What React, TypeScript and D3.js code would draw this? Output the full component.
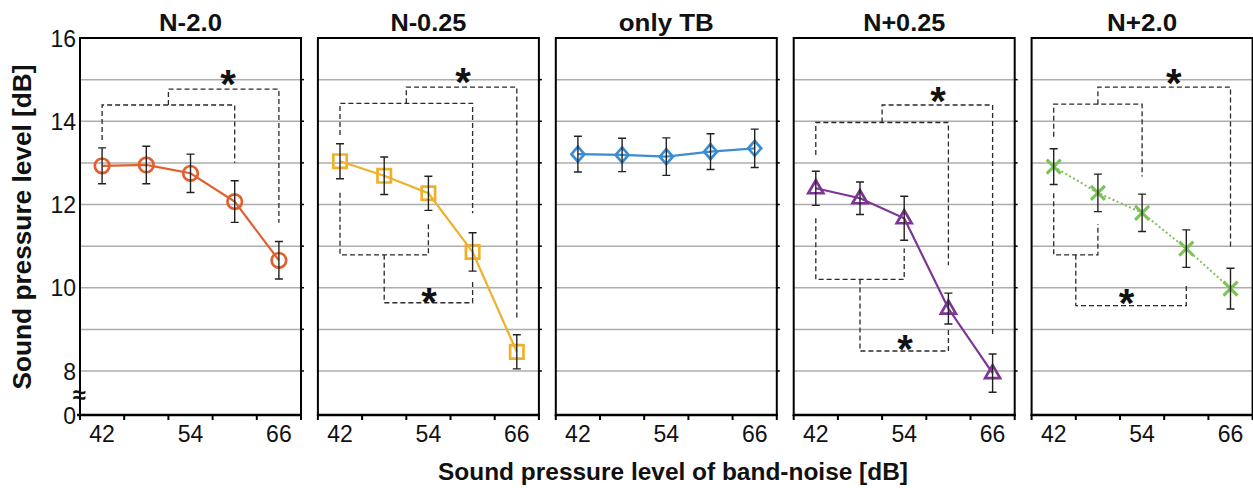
import React, { useEffect, useRef } from "react";
import * as d3 from "d3";

// band-noise levels (x categories) and labels
const categories = [42, 48, 54, 60, 66];
const xTickLabels = [42, 54, 66];
const xBandEdges = [39, 45, 51, 57, 63, 69];
const yTickLabels = [8, 10, 12, 14, 16];
const gridValues = [8, 9, 10, 11, 12, 13, 14, 15];

const panelTitles = ["N-2.0", "N-0.25", "only TB", "N+0.25", "N+2.0"];

// mean thresholds [dB] and error bars
const meanN20 = [12.93, 12.95, 12.75, 12.07, 10.66];
const errN20 = [0.43, 0.45, 0.46, 0.5, 0.45];
const meanN025 = [13.04, 12.69, 12.27, 10.86, 8.46];
const errN025 = [0.42, 0.45, 0.41, 0.46, 0.41];
const meanTB = [13.21, 13.19, 13.15, 13.27, 13.35];
const errTB = [0.43, 0.4, 0.45, 0.43, 0.46];
const meanP025 = [12.39, 12.15, 11.67, 9.5, 7.95];
const errP025 = [0.41, 0.39, 0.53, 0.37, 0.46];
const meanP20 = [12.91, 12.28, 11.8, 10.94, 9.98];
const errP20 = [0.43, 0.45, 0.45, 0.45, 0.49];

// significance brackets: pair (a,b) joined at `level`, then linked to c at `level2`
type Bracket = {
  a: number; b: number; level: number; legA: number; legB: number;
  c: number; level2: number; legC: number; starX: number; starY: number;
};
const bracketsN20: Bracket[] = [
  { a: 42, b: 60, level: 14.39, legA: 13.55, legB: 13.0, c: 66, level2: 14.77, legC: 11.56, starX: 59.1, starY: 15.11 },
];
const bracketsN025: Bracket[] = [
  { a: 42, b: 60, level: 14.43, legA: 13.67, legB: 11.79, c: 66, level2: 14.82, legC: 9.27, starX: 58.7, starY: 15.16 },
  { a: 42, b: 54, level: 10.79, legA: 12.28, legB: 11.56, c: 60, level2: 9.64, legC: 10.19, starX: 54.1, starY: 9.87 },
];
const bracketsTB: Bracket[] = [];
const bracketsP025: Bracket[] = [
  { a: 42, b: 60, level: 13.97, legA: 13.19, legB: 10.54, c: 66, level2: 14.39, legC: 8.86, starX: 58.6, starY: 14.71 },
  { a: 42, b: 54, level: 10.2, legA: 11.67, legB: 10.94, c: 60, level2: 8.48, legC: 9.04, starX: 54.1, starY: 8.74 },
];
const bracketsP20: Bracket[] = [
  { a: 42, b: 54, level: 14.41, legA: 13.63, legB: 12.67, c: 66, level2: 14.82, legC: 10.97, starX: 58.3, starY: 15.13 },
  { a: 42, b: 48, level: 10.79, legA: 12.27, legB: 11.53, c: 60, level2: 9.57, legC: 10.1, starX: 51.9, starY: 9.86 },
];

const panels = [
  { title: panelTitles[0], mean: meanN20, err: errN20, brackets: bracketsN20 },
  { title: panelTitles[1], mean: meanN025, err: errN025, brackets: bracketsN025 },
  { title: panelTitles[2], mean: meanTB, err: errTB, brackets: bracketsTB },
  { title: panelTitles[3], mean: meanP025, err: errP025, brackets: bracketsP025 },
  { title: panelTitles[4], mean: meanP20, err: errP20, brackets: bracketsP20 },
];

// styling
const colors = ["#e0612f", "#efb12b", "#3b8dd2", "#7d3692", "#7cc256"];
const markers = ["circle", "square", "diamond", "triangle", "cross"];
const titleWidths = [63, 76, 95, 82, 70];
const font = "'Liberation Sans', Arial, Helvetica, sans-serif";

const W = 1253, H = 488;
const left0 = 80, step = 237.9, pw = 221;
const top = 38, bottom = 415;

export default function App() {
  const ref = useRef<SVGSVGElement>(null);

  useEffect(() => {
    const svg = d3.select(ref.current);
    svg.selectAll("*").remove();

    const y = d3.scaleLinear().domain([6.943, 16]).range([bottom, top]);

    panels.forEach((p, i) => {
      const x0 = left0 + i * step;
      const x = d3.scaleLinear().domain([39, 69]).range([x0, x0 + pw]);
      const g = svg.append("g");
      const color = colors[i];

      // gridlines
      g.selectAll(".grid").data(gridValues).enter().append("line")
        .attr("x1", x0).attr("x2", x0 + pw)
        .attr("y1", d => y(d)).attr("y2", d => y(d))
        .attr("stroke", "#adadad").attr("stroke-width", 1.5);

      // brackets
      p.brackets.forEach(b => {
        const mid = (x(b.a) + x(b.b)) / 2;
        const path1 = `M${x(b.a)},${y(b.legA)}L${x(b.a)},${y(b.level)}L${x(b.b)},${y(b.level)}L${x(b.b)},${y(b.legB)}`;
        const path2 = `M${mid},${y(b.level)}L${mid},${y(b.level2)}L${x(b.c)},${y(b.level2)}L${x(b.c)},${y(b.legC)}`;
        [path1, path2].forEach(d => {
          g.append("path").attr("d", d).attr("fill", "none")
            .attr("stroke", "#2a2a2a").attr("stroke-width", 1.3)
            .attr("stroke-dasharray", "5,3");
        });
        g.append("text")
          .attr("x", x(b.starX)).attr("y", y(b.starY) + 23)
          .attr("text-anchor", "middle")
          .attr("font-family", font).attr("font-weight", "bold")
          .attr("font-size", 40).attr("fill", "#111")
          .text("*");
      });

      // series line
      const pts = categories.map((c, k) => [x(c), y(p.mean[k])] as [number, number]);
      g.append("path")
        .attr("d", d3.line()(pts))
        .attr("fill", "none").attr("stroke", color)
        .attr("stroke-width", i === 4 ? 2 : 2.2)
        .attr("stroke-dasharray", i === 4 ? "2,2.5" : null);

      // markers
      const shape = markers[i];
      pts.forEach(([px, py]) => {
        const mg = g.append("g").attr("transform", `translate(${px},${py})`);
        let d = "";
        if (shape === "circle") {
          mg.append("circle").attr("r", 7.3).attr("fill", "none")
            .attr("stroke", color).attr("stroke-width", 2.7);
          return;
        } else if (shape === "square") {
          d = "M-6.7,-6.7H6.7V6.7H-6.7Z";
        } else if (shape === "diamond") {
          d = "M0,-7.5L6.5,0L0,7.5L-6.5,0Z";
        } else if (shape === "triangle") {
          d = "M0,-8L7.5,5L-7.5,5Z";
        } else {
          d = "M-7,-7L7,7M-7,7L7,-7";
        }
        mg.append("path").attr("d", d).attr("fill", "none")
          .attr("stroke", color).attr("stroke-width", shape === "cross" ? 3 : 2.7)
          .attr("stroke-linejoin", "miter");
      });

      // error bars
      categories.forEach((c, k) => {
        const cx = x(c), y1 = y(p.mean[k] + p.err[k]), y2 = y(p.mean[k] - p.err[k]);
        const eb = `M${cx},${y1}V${y2}M${cx - 4},${y1}H${cx + 4}M${cx - 4},${y2}H${cx + 4}`;
        g.append("path").attr("d", eb).attr("fill", "none")
          .attr("stroke", "#222").attr("stroke-width", 1.4);
      });

      // frame
      g.append("rect")
        .attr("x", x0).attr("y", top).attr("width", pw).attr("height", bottom - top)
        .attr("fill", "none").attr("stroke", "#000").attr("stroke-width", 2);
      g.append("line")
        .attr("x1", x0 - (i === 0 ? 3 : 1)).attr("x2", x0 + pw + 1)
        .attr("y1", bottom).attr("y2", bottom)
        .attr("stroke", "#000").attr("stroke-width", 2.6);

      // right-side ticks
      g.selectAll(".rtick").data(gridValues).enter().append("line")
        .attr("x1", x0 + pw).attr("x2", x0 + pw + 3)
        .attr("y1", d => y(d)).attr("y2", d => y(d))
        .attr("stroke", "#000").attr("stroke-width", 1.5);

      // x ticks
      g.selectAll(".xtick").data(xBandEdges).enter().append("line")
        .attr("x1", d => x(d)).attr("x2", d => x(d))
        .attr("y1", bottom).attr("y2", bottom + 5)
        .attr("stroke", "#000").attr("stroke-width", 2);
      g.selectAll(".xlab").data(xTickLabels).enter().append("text")
        .attr("x", d => x(d)).attr("y", 442)
        .attr("text-anchor", "middle")
        .attr("font-family", font).attr("font-size", 23).attr("fill", "#111")
        .text(d => d);

      // title
      g.append("text")
        .attr("x", x0 + pw / 2).attr("y", 31)
        .attr("text-anchor", "middle")
        .attr("font-family", font).attr("font-weight", "bold")
        .attr("font-size", 23).attr("fill", "#111")
        .attr("textLength", titleWidths[i]).attr("lengthAdjust", "spacingAndGlyphs")
        .text(p.title);
    });

    // y tick labels (left panel)
    svg.selectAll(".ylab").data(yTickLabels).enter().append("text")
      .attr("x", 76).attr("y", d => y(d) + 8.5)
      .attr("text-anchor", "end")
      .attr("font-family", font).attr("font-size", 23).attr("fill", "#111")
      .text(d => d);
    svg.append("text")
      .attr("x", 76).attr("y", bottom + 8.5)
      .attr("text-anchor", "end")
      .attr("font-family", font).attr("font-size", 23).attr("fill", "#111")
      .text("0");
    // axis break mark
    svg.append("text")
      .attr("x", 79).attr("y", 403)
      .attr("text-anchor", "middle")
      .attr("font-family", font).attr("font-weight", "bold")
      .attr("font-size", 24).attr("fill", "#111")
      .text("≈");

    // axis titles
    svg.append("text")
      .attr("transform", "translate(31,227) rotate(-90)")
      .attr("text-anchor", "middle")
      .attr("font-family", font).attr("font-weight", "bold")
      .attr("font-size", 26).attr("fill", "#111")
      .attr("textLength", 325).attr("lengthAdjust", "spacingAndGlyphs")
      .text("Sound pressure level [dB]");
    svg.append("text")
      .attr("x", 673).attr("y", 480)
      .attr("text-anchor", "middle")
      .attr("font-family", font).attr("font-weight", "bold")
      .attr("font-size", 23).attr("fill", "#111")
      .attr("textLength", 470).attr("lengthAdjust", "spacingAndGlyphs")
      .text("Sound pressure level of band-noise [dB]");
  }, []);

  return (
    <svg ref={ref} width={W} height={H}
      style={{ position: "absolute", left: 0, top: 0, background: "#fff" }} />
  );
}
